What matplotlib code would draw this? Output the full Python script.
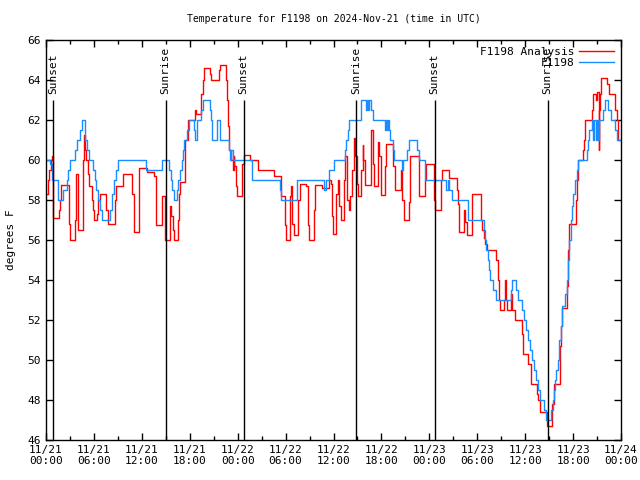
import matplotlib
matplotlib.use("Agg")
import matplotlib.pyplot as plt
import matplotlib.dates as mdates
import pandas as pd

# start of the plotted period (UTC)
START = pd.Timestamp("2024-11-21 00:00")

# F1198 Analysis (red), step breakpoints: hours since START, degrees F
red_hours = [0.0, 0.25, 0.4, 0.6, 0.8, 0.9, 1.6, 1.7, 1.85, 2.85, 3.0, 3.6, 3.8, 3.95,
             4.65, 4.8, 4.9, 5.05, 5.25, 5.4, 5.75, 5.9, 6.05, 6.4, 6.55, 6.75, 7.55,
             7.75, 8.65, 8.8, 9.65, 10.75, 11.0, 11.65, 12.65, 13.5, 13.8, 14.55, 14.9,
             15.55, 15.7, 15.9, 16.05, 16.5, 16.65, 16.8, 17.45, 17.75, 18.6, 18.75,
             19.45, 19.65, 19.8, 20.5, 20.7, 21.6, 21.8, 22.55, 22.7, 22.85, 22.95,
             23.2, 23.4, 23.5, 23.6, 23.8, 23.95, 24.55, 24.8, 25.5, 26.6, 28.6, 29.45,
             29.9, 30.05, 30.55, 30.65, 30.8, 31.0, 31.55, 31.75, 32.5, 32.8, 32.95,
             33.5, 33.7, 34.6, 35.4, 35.65, 35.75, 35.9, 36.3, 36.55, 36.7, 36.9, 37.3,
             37.5, 37.65, 37.75, 37.95, 38.05, 38.3, 38.55, 38.7, 38.9, 39.05, 39.5,
             39.65, 39.75, 39.9, 40.7, 40.9, 41.05, 41.55, 41.7, 41.9, 42.4, 42.55,
             43.45, 43.65, 44.4, 44.55, 44.85, 45.4, 45.55, 46.7, 47.45, 47.55, 48.55,
             48.65, 49.4, 49.55, 50.4, 51.5, 51.6, 51.75, 52.35, 52.5, 52.7, 53.35,
             54.45, 54.6, 54.8, 54.95, 55.2, 56.3, 56.55, 56.7, 56.9, 57.3, 57.45,
             57.55, 57.7, 58.2, 58.35, 58.7, 59.55, 59.7, 60.4, 60.7, 61.45, 61.6,
             61.8, 62.7, 63.3, 63.55, 64.3, 64.45, 64.55, 65.2, 65.4, 65.55, 66.35,
             66.5, 66.65, 67.2, 67.4, 67.55, 68.35, 68.55, 68.85, 68.95, 69.2, 69.3,
             69.4, 69.55, 70.3, 70.45, 71.3, 71.45, 71.6, 72.0]
red_temps = [58.3, 59.0, 59.5, 60.0, 60.2, 57.1, 57.5, 58.0, 58.75, 56.8, 56.0, 57.0, 59.3, 56.5,
             60.0, 61.25, 60.5, 60.0, 59.3, 58.7, 58.0, 57.5, 57.0, 57.3, 58.0, 58.3, 57.5,
             56.8, 58.0, 58.7, 59.3, 58.3, 56.4, 59.6, 59.4, 59.2, 56.75, 58.2, 56.0,
             57.7, 57.2, 56.5, 56.0, 57.0, 58.3, 58.9, 61.0, 62.0, 62.5, 62.3,
             63.3, 64.0, 64.6, 64.3, 64.0, 64.5, 64.75, 64.0, 63.0, 61.7, 60.5,
             60.0, 59.5, 60.2, 59.7, 58.7, 58.2, 59.8, 60.25, 60.0, 59.5, 59.2, 58.2,
             56.75, 56.0, 58.2, 58.7, 56.8, 56.25, 58.0, 58.8, 58.7, 56.75, 56.0,
             57.5, 58.75, 58.6, 59.0, 58.8, 57.2, 56.3, 58.3, 59.0, 57.7, 57.0, 59.0,
             60.2, 59.3, 58.0, 57.5, 58.2, 59.5, 61.1, 60.2, 58.8, 58.2, 59.5,
             60.75, 60.0, 58.75, 61.5, 59.8, 58.7, 60.9, 60.2, 58.25, 59.7, 60.8,
             59.7, 58.5, 59.5, 58.0, 57.0, 57.9, 60.2, 58.2, 59.0, 59.8, 58.0,
             57.5, 59.0, 59.5, 59.1, 58.5, 57.8, 56.4, 57.5, 56.9, 56.25, 58.3,
             57.0, 56.5, 56.1, 55.8, 55.5, 55.0, 54.0, 53.0, 52.5, 53.0, 54.0,
             53.0, 52.5, 53.3, 52.5, 52.0, 51.3, 50.3, 49.8, 48.8, 48.3, 48.0,
             47.4, 46.7, 47.8, 48.8, 50.7, 51.7, 52.6, 53.7, 55.5, 56.8, 58.0,
             59.0, 60.0, 60.5, 61.0, 62.0, 62.5, 63.3, 63.0, 63.4, 60.5, 62.5,
             63.3, 64.1, 63.8, 63.3, 62.5, 62.0, 61.0, 61.0]

# F1198 observations (blue)
blue_hours = [0.0, 0.5, 0.75, 1.5, 2.15, 2.6, 2.75, 3.0, 3.65, 3.85, 4.3, 4.5, 4.85, 5.15,
              5.4, 5.9, 6.15, 6.3, 6.55, 6.8, 7.0, 8.0, 8.3, 8.5, 8.8, 9.05, 12.5, 14.55,
              15.35, 15.65, 15.8, 16.0, 16.4, 16.55, 16.8, 17.0, 17.15, 17.3, 17.65, 17.9,
              18.5, 18.7, 18.9, 19.45, 19.65, 20.55, 20.7, 20.8, 21.45, 21.8, 22.9, 23.05,
              23.2, 23.4, 25.75, 29.3, 29.45, 31.4, 34.8, 35.1, 35.4, 36.05, 37.4, 37.55,
              37.8, 37.95, 39.45, 40.1, 40.2, 40.35, 40.45, 40.7, 40.95, 42.4, 42.55,
              42.7, 42.85, 43.0, 43.1, 43.4, 43.55, 44.55, 44.7, 45.2, 45.4, 46.5, 46.7,
              47.5, 50.1, 50.3, 50.5, 50.9, 52.8, 54.8, 54.95, 55.1, 55.3, 55.45, 55.6,
              56.0, 56.3, 58.2, 58.35, 58.8, 59.1, 59.6, 59.9, 60.15, 60.4, 60.65, 60.9,
              61.15, 61.4, 61.65, 61.8, 62.3, 62.55, 63.2, 63.5, 63.6, 63.75, 63.9,
              64.05, 64.2, 64.5, 64.65, 65.0, 65.25, 65.4, 65.55, 65.7, 65.9, 66.05,
              66.2, 66.45, 66.6, 67.7, 67.85, 68.0, 68.4, 68.55, 68.65, 68.85, 68.95,
              69.1, 69.2, 69.8, 69.97, 70.4, 70.8, 71.2, 71.5, 72.0]
blue_temps = [60.0, 59.8, 59.0, 58.0, 58.5, 59.0, 59.5, 60.0, 60.5, 61.0, 61.5, 62.0, 61.0, 60.5,
              60.0, 59.5, 59.0, 58.5, 58.0, 57.5, 57.0, 57.5, 58.3, 59.0, 59.5, 60.0, 59.5, 60.0,
              59.5, 59.0, 58.5, 58.0, 58.5, 59.0, 59.5, 60.0, 60.5, 61.0, 61.5, 62.0,
              61.5, 61.0, 62.0, 62.5, 63.0, 62.5, 62.0, 61.0, 62.0, 61.0, 60.5, 60.0,
              60.5, 60.0, 59.0, 58.5, 58.0, 59.0, 58.5, 59.0, 59.5, 60.0, 60.5, 61.0,
              61.5, 62.0, 63.0, 62.5, 63.0, 62.5, 63.0, 62.5, 62.0, 61.5, 62.0,
              61.5, 62.0, 61.5, 61.0, 60.5, 60.0, 59.5, 60.0, 60.5, 61.0, 60.5, 60.0,
              59.0, 58.5, 59.0, 58.5, 58.0, 57.0, 56.5, 56.0, 55.5, 55.0, 54.5, 54.0,
              53.5, 53.0, 53.5, 54.0, 53.5, 53.0, 52.5, 52.0, 51.5, 51.0, 50.5, 50.0,
              49.5, 49.0, 48.5, 48.0, 47.5, 47.0, 47.5, 48.0, 48.5, 49.0, 49.5,
              50.0, 51.0, 51.7, 52.7, 53.3, 54.0, 55.0, 56.0, 57.0, 57.7, 58.3,
              59.0, 59.5, 60.0, 60.5, 61.0, 61.5, 62.0, 61.0, 62.0, 61.0, 62.0,
              61.0, 62.0, 62.5, 63.0, 62.5, 62.0, 61.5, 61.0, 61.0]

# sunrise / sunset markers
event_labels = ["Sunset", "Sunrise", "Sunset", "Sunrise", "Sunset", "Sunrise"]
event_hours = [0.92, 14.98, 24.75, 38.8, 48.67, 62.8]

MONO = "DejaVu Sans Mono"
plt.rcParams["font.family"] = MONO
plt.rcParams["font.size"] = 8


def to_time(hours):
    return START + pd.to_timedelta(hours, unit="h")


fig = plt.figure(figsize=(6.4, 4.8), dpi=100)
ax = fig.add_axes([46 / 640, 40 / 480, 575 / 640, 400 / 480])

ax.plot(to_time(red_hours), red_temps, drawstyle="steps-post", color="#ff0000",
        lw=1.0, label="F1198 Analysis")
ax.plot(to_time(blue_hours), blue_temps, drawstyle="steps-post", color="#1a8cff",
        lw=1.0, label="F1198")

ev_times = to_time(event_hours)
ax.vlines(ev_times, 46, 63, color="black", lw=1.0)
for t, lab in zip(ev_times, event_labels):
    ax.text(t, 63.3, lab, rotation=90, ha="center", va="bottom", fontsize=8)

ax.set_xlim(START, START + pd.Timedelta(hours=72))
ax.set_ylim(46, 66)
ax.set_yticks(range(46, 67, 2))
ax.xaxis.set_major_locator(mdates.HourLocator(byhour=[0, 6, 12, 18]))
ax.xaxis.set_minor_locator(mdates.HourLocator(byhour=[3, 9, 15, 21]))
ax.xaxis.set_major_formatter(mdates.DateFormatter("%m/%d\n%H:%M"))
ax.tick_params(which="both", direction="in", top=True, right=True, labelsize=8)
ax.tick_params(which="major", length=5, width=1)
ax.tick_params(which="minor", length=3, width=1)
for s in ax.spines.values():
    s.set_linewidth(1.0)

ax.set_title("Temperature for F1198 on 2024-Nov-21 (time in UTC)", fontsize=7, pad=13)
ax.set_ylabel("degrees F", fontsize=8)
ax.yaxis.set_label_coords(-0.052, 0.5)

ax.legend(loc="upper right", frameon=False, markerfirst=False, handlelength=3.2,
          borderaxespad=0.2, labelspacing=0.1, handletextpad=0.4, fontsize=8)

fig.savefig("out.png", dpi=100)
